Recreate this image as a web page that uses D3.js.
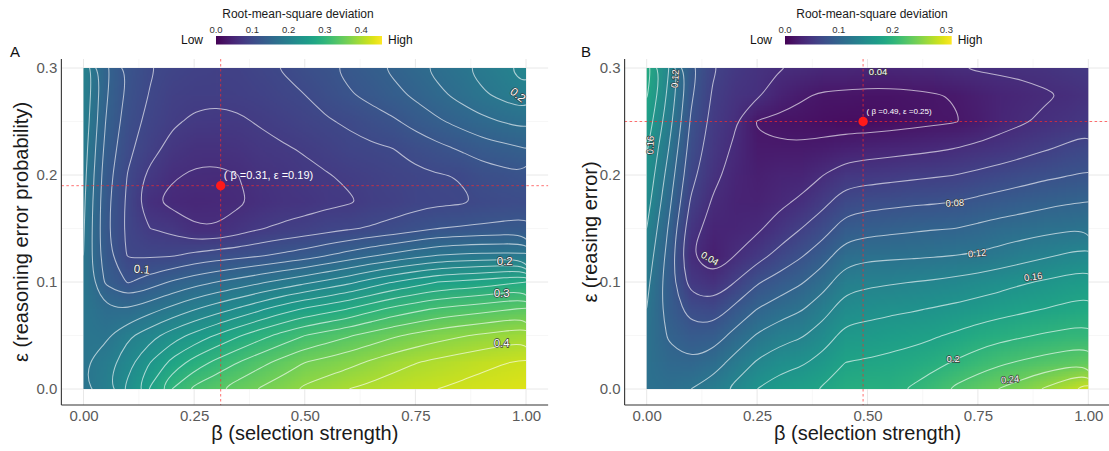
<!DOCTYPE html>
<html><head><meta charset="utf-8">
<script src="https://cdn.jsdelivr.net/npm/d3@7"></script>
<style>
body{margin:0;background:#fff;}
text{font-family:"Liberation Sans",Arial,Helvetica,sans-serif;}
</style>
</head><body>
<svg id="chart" width="1109" height="451" xmlns="http://www.w3.org/2000/svg"></svg>
<script>
// ---------------- DATA ----------------
const betaGrid = [0,0.05,0.1,0.15,0.2,0.25,0.3,0.35,0.4,0.45,0.5,0.55,0.6,0.65,0.7,0.75,0.8,0.85,0.9,0.95,1];
const epsGrid  = [0.3,0.275,0.25,0.225,0.2,0.175,0.15,0.125,0.1,0.075,0.05,0.025,0];

// Panel A: RMSD, one column per beta value, entries from eps=0.3 down to eps=0
const rmsdA = [
 [0.200,0.197,0.194,0.190,0.187,0.184,0.182,0.180,0.179,0.179,0.179,0.178,0.176],
 [0.145,0.143,0.140,0.135,0.130,0.127,0.126,0.128,0.137,0.162,0.176,0.190,0.195],
 [0.119,0.115,0.110,0.105,0.099,0.096,0.095,0.098,0.118,0.160,0.196,0.213,0.225],
 [0.102,0.099,0.094,0.088,0.075,0.063,0.080,0.097,0.130,0.172,0.212,0.240,0.262],
 [0.094,0.089,0.083,0.073,0.062,0.055,0.074,0.098,0.142,0.185,0.230,0.266,0.300],
 [0.090,0.085,0.077,0.066,0.058,0.051,0.062,0.105,0.152,0.198,0.246,0.288,0.325],
 [0.089,0.084,0.075,0.065,0.057,0.052,0.061,0.110,0.160,0.210,0.262,0.305,0.338],
 [0.091,0.086,0.077,0.068,0.060,0.057,0.070,0.113,0.168,0.222,0.278,0.320,0.350],
 [0.095,0.091,0.082,0.074,0.067,0.064,0.079,0.118,0.177,0.236,0.293,0.334,0.362],
 [0.101,0.096,0.087,0.078,0.071,0.068,0.084,0.124,0.186,0.250,0.307,0.347,0.373],
 [0.109,0.100,0.092,0.082,0.075,0.071,0.088,0.130,0.195,0.262,0.320,0.360,0.384],
 [0.117,0.109,0.098,0.088,0.079,0.075,0.093,0.139,0.205,0.271,0.329,0.367,0.392],
 [0.125,0.118,0.103,0.094,0.083,0.078,0.098,0.148,0.215,0.280,0.338,0.374,0.400],
 [0.134,0.126,0.110,0.097,0.088,0.084,0.102,0.157,0.228,0.293,0.348,0.383,0.406],
 [0.144,0.134,0.117,0.100,0.092,0.089,0.107,0.165,0.240,0.305,0.357,0.392,0.412],
 [0.154,0.144,0.127,0.108,0.096,0.093,0.113,0.173,0.250,0.314,0.365,0.399,0.416],
 [0.166,0.155,0.137,0.115,0.099,0.096,0.120,0.180,0.260,0.322,0.372,0.405,0.420],
 [0.176,0.166,0.146,0.122,0.101,0.097,0.122,0.183,0.264,0.327,0.378,0.410,0.424],
 [0.187,0.177,0.155,0.130,0.110,0.102,0.124,0.185,0.268,0.332,0.383,0.415,0.428],
 [0.198,0.186,0.161,0.135,0.114,0.104,0.126,0.185,0.274,0.337,0.388,0.419,0.432],
 [0.210,0.195,0.167,0.140,0.118,0.107,0.128,0.185,0.280,0.342,0.393,0.423,0.435]
];

// Panel B: RMSD, one column per beta value, entries from eps=0.3 down to eps=0
const rmsdB = [
 [0.190,0.182,0.172,0.162,0.155,0.148,0.140,0.132,0.125,0.120,0.117,0.116,0.116],
 [0.140,0.135,0.128,0.120,0.112,0.105,0.098,0.093,0.090,0.092,0.098,0.105,0.113],
 [0.087,0.083,0.078,0.072,0.066,0.058,0.048,0.040,0.052,0.072,0.088,0.102,0.120],
 [0.062,0.058,0.054,0.050,0.045,0.038,0.032,0.027,0.044,0.068,0.090,0.110,0.130],
 [0.052,0.047,0.042,0.037,0.033,0.031,0.033,0.040,0.060,0.084,0.106,0.127,0.145],
 [0.045,0.043,0.019,0.022,0.027,0.030,0.037,0.052,0.078,0.100,0.122,0.142,0.160],
 [0.041,0.030,0.016,0.022,0.031,0.036,0.048,0.066,0.088,0.110,0.132,0.152,0.170],
 [0.038,0.022,0.015,0.022,0.032,0.043,0.060,0.078,0.098,0.118,0.138,0.157,0.175],
 [0.035,0.018,0.013,0.025,0.040,0.055,0.072,0.092,0.112,0.132,0.150,0.167,0.182],
 [0.034,0.017,0.012,0.029,0.050,0.070,0.089,0.111,0.132,0.150,0.166,0.180,0.193],
 [0.033,0.016,0.012,0.031,0.052,0.073,0.093,0.115,0.136,0.153,0.168,0.182,0.196],
 [0.033,0.016,0.013,0.033,0.054,0.075,0.095,0.116,0.138,0.156,0.171,0.185,0.195],
 [0.034,0.017,0.015,0.035,0.056,0.077,0.097,0.117,0.140,0.158,0.174,0.188,0.202],
 [0.036,0.019,0.017,0.037,0.058,0.078,0.099,0.118,0.142,0.161,0.178,0.194,0.212],
 [0.039,0.021,0.019,0.040,0.060,0.080,0.100,0.120,0.145,0.164,0.183,0.202,0.224],
 [0.042,0.027,0.025,0.044,0.064,0.084,0.104,0.122,0.149,0.168,0.189,0.210,0.233],
 [0.043,0.032,0.033,0.048,0.068,0.088,0.108,0.127,0.153,0.172,0.194,0.217,0.241],
 [0.044,0.035,0.038,0.053,0.072,0.091,0.111,0.132,0.158,0.176,0.198,0.222,0.250],
 [0.046,0.038,0.043,0.058,0.076,0.095,0.114,0.137,0.162,0.180,0.202,0.227,0.262],
 [0.049,0.041,0.047,0.063,0.079,0.098,0.117,0.142,0.166,0.184,0.205,0.231,0.276],
 [0.051,0.046,0.052,0.068,0.082,0.100,0.119,0.146,0.170,0.187,0.207,0.235,0.290]
];

const betaTicks = [0,0.25,0.5,0.75,1];
const betaTickLabels = ["0.00","0.25","0.50","0.75","1.00"];
const epsTicks = [0,0.1,0.2,0.3];
const epsTickLabels = ["0.0","0.1","0.2","0.3"];
const legendTicksA = [0,0.1,0.2,0.3,0.4];
const legendTicksB = [0,0.1,0.2,0.3];
const colorMaxA = 0.457, colorMaxB = 0.31;
const optimumA = {beta:0.31, eps:0.19, label:"( β =0.31, ε =0.19)"};
const optimumB = {beta:0.49, eps:0.25, label:"( β =0.49, ε =0.25)"};
const contourLabelsA = [
 {text:"0.2", beta:0.982, eps:0.275, angle:38},
 {text:"0.1", beta:0.132, eps:0.112, angle:5},
 {text:"0.2", beta:0.952, eps:0.120, angle:0},
 {text:"0.3", beta:0.945, eps:0.090, angle:0},
 {text:"0.4", beta:0.945, eps:0.043, angle:0}
];
const contourLabelsB = [
 {text:"0.12", beta:0.064, eps:0.290, angle:-85},
 {text:"0.16", beta:0.008, eps:0.228, angle:-88},
 {text:"0.04", beta:0.524, eps:0.297, angle:0},
 {text:"0.08", beta:0.698, eps:0.174, angle:-3},
 {text:"0.12", beta:0.748, eps:0.127, angle:-6},
 {text:"0.16", beta:0.875, eps:0.105, angle:-8},
 {text:"0.2",  beta:0.694, eps:0.028, angle:0},
 {text:"0.24", beta:0.823, eps:0.009, angle:-5},
 {text:"0.04", beta:0.143, eps:0.122, angle:30}
];

// ---------------- DRAW ----------------
const svg = d3.select("#chart");
svg.append("rect").attr("width",1109).attr("height",451).attr("fill","#fff");
const defs = svg.append("defs");

function rasterURL(cols, max){
  const nx = cols.length, ny = cols[0].length;
  const cv = document.createElement("canvas"); cv.width = nx; cv.height = ny;
  const ctx = cv.getContext("2d");
  const img = ctx.createImageData(nx, ny);
  for (let i=0;i<nx;i++) for (let j=0;j<ny;j++){
    const c = d3.rgb(d3.interpolateViridis(Math.max(0,Math.min(1,cols[i][j]/max))));
    const k = (j*nx+i)*4;
    img.data[k]=c.r; img.data[k+1]=c.g; img.data[k+2]=c.b; img.data[k+3]=255;
  }
  ctx.putImageData(img,0,0);
  return cv.toDataURL();
}

function drawPanel(cfg){
  const xs = d3.scaleLinear().domain([0,1]).range([cfg.x0, cfg.x1]);
  const ys = d3.scaleLinear().domain([0,0.3]).range([cfg.y0, cfg.y1]);
  const left = xs(-0.05), right = xs(1.05), top = cfg.top, bottom = ys(-0.015);
  const g = svg.append("g");

  // grid
  const xMinor=[0.125,0.375,0.625,0.875], yMinor=[0.05,0.15,0.25];
  g.selectAll(".vmin").data(xMinor).join("line").attr("x1",d=>xs(d)).attr("x2",d=>xs(d))
    .attr("y1",top).attr("y2",bottom).attr("stroke","#f2f2f2").attr("stroke-width",0.6);
  g.selectAll(".hmin").data(yMinor).join("line").attr("y1",d=>ys(d)).attr("y2",d=>ys(d))
    .attr("x1",left).attr("x2",right).attr("stroke","#f2f2f2").attr("stroke-width",0.6);
  g.selectAll(".vmaj").data(betaTicks).join("line").attr("x1",d=>xs(d)).attr("x2",d=>xs(d))
    .attr("y1",top).attr("y2",bottom).attr("stroke","#e8e8e8").attr("stroke-width",1);
  g.selectAll(".hmaj").data(epsTicks).join("line").attr("y1",d=>ys(d)).attr("y2",d=>ys(d))
    .attr("x1",left).attr("x2",right).attr("stroke","#e8e8e8").attr("stroke-width",1);

  // raster
  const nx = cfg.data.length, ny = cfg.data[0].length;
  const dB = betaGrid[1]-betaGrid[0], dE = epsGrid[0]-epsGrid[1];
  const clipId = "clip"+cfg.id;
  defs.append("clipPath").attr("id",clipId).append("rect")
    .attr("x",xs(0)).attr("y",ys(0.3)).attr("width",xs(1)-xs(0)).attr("height",ys(0)-ys(0.3));
  const rg = g.append("g").attr("clip-path",`url(#${clipId})`);
  const bx0 = xs(betaGrid[0]-dB/2), bx1 = xs(betaGrid[nx-1]+dB/2);
  const ey0 = ys(epsGrid[0]+dE/2), ey1 = ys(epsGrid[ny-1]-dE/2);
  rg.append("image").attr("href",rasterURL(cfg.data,cfg.cmax))
    .attr("x",bx0).attr("y",ey0).attr("width",bx1-bx0).attr("height",ey1-ey0)
    .attr("preserveAspectRatio","none").style("image-rendering","auto");

  // contours
  const values = [];
  for (let j=0;j<ny;j++) for (let i=0;i<nx;i++) values.push(cfg.data[i][j]);
  const thr = d3.range(0.02, cfg.cmax, 0.02).map(v=>+v.toFixed(2));
  const cs = d3.contours().size([nx,ny]).thresholds(thr)(values);
  const line = d3.line()
    .x(p=>xs(betaGrid[0]+(p[0]-0.5)*dB))
    .y(p=>ys(epsGrid[0]-(p[1]-0.5)*dE))
    .curve(d3.curveBasisClosed);
  cs.forEach(c=>{
    let d = "";
    c.coordinates.forEach(poly=>poly.forEach(ring=>{ d += line(ring.slice(0,-1)); }));
    rg.append("path").attr("d",d).attr("fill","none")
      .attr("stroke","#ffffff").attr("stroke-opacity",0.62).attr("stroke-width",1.05);
  });

  // contour labels
  g.selectAll(".clab").data(cfg.labels).join("text")
    .attr("transform",d=>`translate(${xs(d.beta)},${ys(d.eps)}) rotate(${d.angle})`)
    .attr("text-anchor","middle").attr("dy","0.35em")
    .attr("font-size",cfg.labelSize).attr("fill","#ffffff")
    .attr("stroke","#3a3a3a").attr("stroke-width",1.3).attr("paint-order","stroke")
    .text(d=>d.text);

  // optimum reference lines
  const ox = xs(cfg.opt.beta), oy = ys(cfg.opt.eps);
  g.append("line").attr("x1",ox).attr("x2",ox).attr("y1",top).attr("y2",bottom)
    .attr("stroke","#ff2a2a").attr("stroke-opacity",0.75).attr("stroke-width",0.9).attr("stroke-dasharray","2.5,2.5");
  g.append("line").attr("y1",oy).attr("y2",oy).attr("x1",left).attr("x2",right)
    .attr("stroke","#ff2a2a").attr("stroke-opacity",0.75).attr("stroke-width",0.9).attr("stroke-dasharray","2.5,2.5");
  g.append("circle").attr("cx",ox).attr("cy",oy).attr("r",4.7).attr("fill","#ff1a1a");
  g.append("text").attr("x",ox+cfg.optDx).attr("y",oy+cfg.optDy)
    .attr("font-size",cfg.optSize).attr("fill","#ffffff").text(cfg.opt.label);

  // axes
  g.append("line").attr("x1",left).attr("x2",left).attr("y1",top).attr("y2",bottom)
    .attr("stroke","#333").attr("stroke-width",1.1);
  g.append("line").attr("x1",left).attr("x2",right).attr("y1",bottom).attr("y2",bottom)
    .attr("stroke","#333").attr("stroke-width",1.1);
  const ax = g.append("g").attr("transform",`translate(0,${bottom})`)
    .call(d3.axisBottom(xs).tickValues(betaTicks).tickFormat((d,i)=>betaTickLabels[i]).tickSize(0).tickPadding(5));
  const ay = g.append("g").attr("transform",`translate(${left},0)`)
    .call(d3.axisLeft(ys).tickValues(epsTicks).tickFormat((d,i)=>epsTickLabels[i]).tickSize(0).tickPadding(4));
  [ax,ay].forEach(a=>{
    a.select(".domain").remove();
    a.selectAll("text").attr("font-size",15).attr("fill","#5a5a5a")
      .attr("font-family",'"Liberation Sans",Arial,sans-serif');
  });
  g.append("text").attr("x",(left+right)/2).attr("y",440).attr("text-anchor","middle")
    .attr("font-size",20).attr("fill","#1a1a1a").text("β (selection strength)");
  g.append("text").attr("transform",`translate(${cfg.ytitleX},${(top+bottom)/2}) rotate(-90)`)
    .attr("text-anchor","middle").attr("font-size",20).attr("fill","#1a1a1a").text(cfg.ytitle);
  g.append("text").attr("x",cfg.tagX).attr("y",57).attr("font-size",15).attr("fill","#111").text(cfg.tag);

  // legend
  const L = cfg.legend;
  const gid = "grad"+cfg.id;
  const grad = defs.append("linearGradient").attr("id",gid).attr("x1","0%").attr("x2","100%");
  d3.range(0,1.0001,0.05).forEach(t=>grad.append("stop").attr("offset",(t*100)+"%").attr("stop-color",d3.interpolateViridis(t)));
  const ls = d3.scaleLinear().domain([0,cfg.cmax]).range([L.x0,L.x1]);
  const lg = svg.append("g");
  lg.append("text").attr("x",L.titleX).attr("y",17.5).attr("text-anchor","middle")
    .attr("font-size",12).attr("fill","#1a1a1a").text("Root-mean-square deviation");
  lg.append("rect").attr("x",L.x0).attr("y",36).attr("width",L.x1-L.x0).attr("height",8.5).attr("fill",`url(#${gid})`);
  lg.selectAll(".lt").data(L.ticks).join("text").attr("x",d=>ls(d)).attr("y",33.3)
    .attr("text-anchor","middle").attr("font-size",9.5).attr("fill","#333").text(d=>d.toFixed(1));
  lg.append("text").attr("x",L.x0-13).attr("y",43.6).attr("text-anchor","end").attr("font-size",12).attr("fill","#111").text("Low");
  lg.append("text").attr("x",L.x1+6).attr("y",43.6).attr("font-size",12).attr("fill","#111").text("High");
}

drawPanel({id:"A", data:rmsdA, cmax:colorMaxA, x0:83.5, x1:526, y0:389, y1:68, top:59,
  labels:contourLabelsA, labelSize:11.5, opt:optimumA, optDx:3, optDy:-6.5, optSize:11,
  ytitle:"ε (reasoning error probability)", ytitleX:28, tag:"A", tagX:10,
  legend:{x0:216, x1:382, titleX:298, ticks:legendTicksA}});
drawPanel({id:"B", data:rmsdB, cmax:colorMaxB, x0:646.7, x1:1088.3, y0:389, y1:68, top:59,
  labels:contourLabelsB, labelSize:9.5, opt:optimumB, optDx:3.5, optDy:-7.5, optSize:8,
  ytitle:"ε (reasing error)", ytitleX:597, tag:"B", tagX:581,
  legend:{x0:785, x1:951.7, titleX:872, ticks:legendTicksB}});
</script>
</body></html>
